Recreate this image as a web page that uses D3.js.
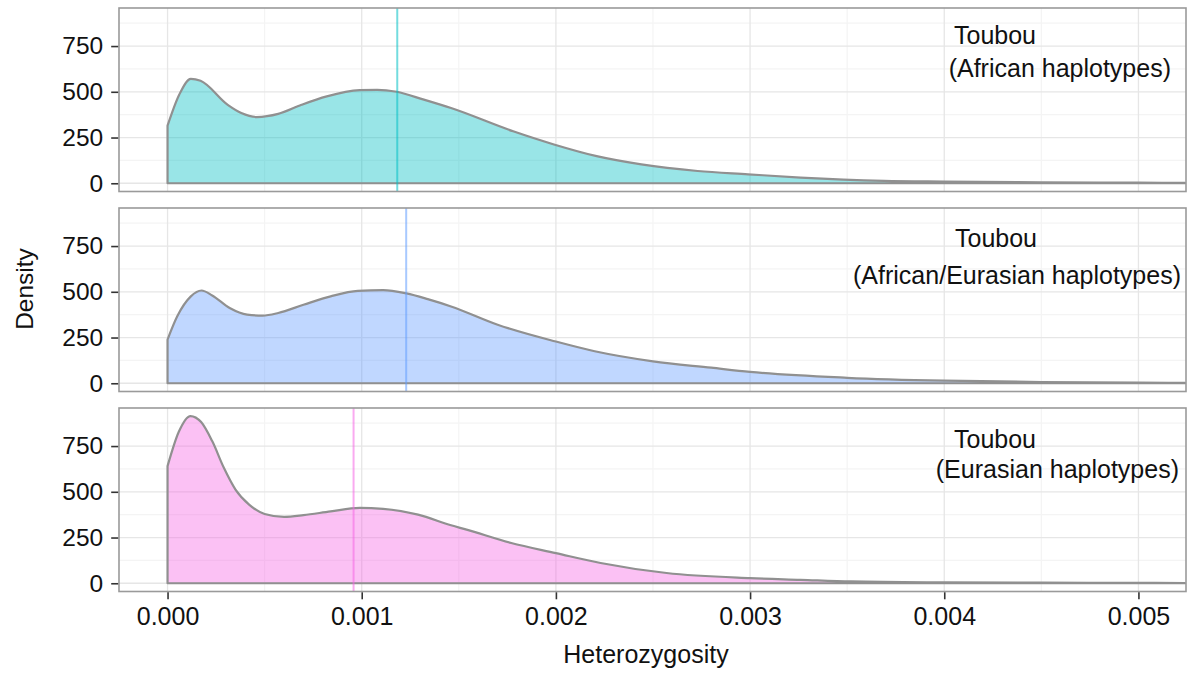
<!DOCTYPE html>
<html><head><meta charset="utf-8">
<script src="https://cdn.jsdelivr.net/npm/d3@7"></script>
<style>
body{margin:0;background:#fff}
text{font-family:"Liberation Sans",Arial,Helvetica,sans-serif}
</style></head>
<body>
<svg id="chart" width="1191" height="673"></svg>
<script>
// ---- data ----
const groupNames = ["Toubou", "Toubou", "Toubou"];
const groupSubtitles = ["(African haplotypes)", "(African/Eurasian haplotypes)", "(Eurasian haplotypes)"];
const groupColors = ["#00BFC4", "#619CFF", "#F564E3"];
const groupMeans = [0.001183, 0.001229, 0.000958];

const africanX = [0, 0.00006, 0.00012, 0.00017, 0.00031, 0.00038, 0.00046, 0.00057, 0.00069, 0.00082, 0.00099, 0.00108, 0.00118, 0.00132, 0.00146, 0.00178, 0.00199, 0.00221, 0.00244, 0.00273, 0.00299, 0.00326, 0.00369, 0.0040, 0.0045, 0.0050, 0.00524];
const africanDensity = [315, 484, 571, 560, 429, 384, 362, 379, 429, 475, 509, 511, 500, 457, 411, 284, 212, 148, 103, 67, 49, 31, 13, 9, 5, 3, 2];

const mixedX = [0, 0.00005, 0.00012, 0.000175, 0.00023, 0.00032, 0.00041, 0.00049, 0.00057, 0.0007, 0.00084, 0.00098, 0.00111, 0.00123, 0.00134, 0.00146, 0.0017, 0.002, 0.0022, 0.0025, 0.0028, 0.003, 0.0035, 0.004, 0.0045, 0.005, 0.00524];
const mixedDensity = [239, 366, 475, 507, 480, 411, 375, 370, 384, 429, 475, 505, 509, 491, 460, 420, 320, 228, 175, 120, 85, 62, 30, 14, 7, 3, 2];

const eurasianX = [0, 0.000058, 0.000118, 0.000173, 0.00023, 0.00029, 0.00035, 0.00042, 0.0005, 0.0006, 0.0007, 0.00084, 0.00099, 0.00111, 0.00129, 0.00146, 0.00154, 0.00177, 0.002, 0.00223, 0.00257, 0.003, 0.00326, 0.00352, 0.004, 0.0045, 0.005, 0.00524];
const eurasianDensity = [640, 828, 914, 881, 777, 631, 512, 430, 379, 363, 372, 393, 412, 407, 375, 317, 293, 220, 165, 111, 56, 28, 19, 10, 5, 3, 2, 1];

const xTicks = [0, 0.001, 0.002, 0.003, 0.004, 0.005];
const xMinor = [0.0005, 0.0015, 0.0025, 0.0035, 0.0045];
const yTicks = [0, 250, 500, 750];
const yMinor = [125, 375, 625, 875];
const xTitle = "Heterozygosity";
const yTitle = "Density";

// ---- layout ----
const groupsX = [africanX, mixedX, eurasianX];
const groupsY = [africanDensity, mixedDensity, eurasianDensity];
const left = 119, right = 1186;
const panelTops = [8, 208, 408];
const panelH = 183.5;
const labelLayout = [
  {x1: 954, y1: 44, x2: 1171, y2: 77},
  {x1: 955, y1: 247, x2: 1181, y2: 284},
  {x1: 954, y1: 448, x2: 1179, y2: 478}
];

const svg = d3.select("#chart");
const x = d3.scaleLinear().domain([-0.00025, 0.005245]).range([left, right]);

groupsX.forEach((gx, i) => {
  const top = panelTops[i];
  const y = d3.scaleLinear().domain([-45, 958]).range([top + panelH, top]);
  const g = svg.append("g");
  g.append("rect").attr("x", left).attr("y", top).attr("width", right - left).attr("height", panelH).attr("fill", "#fff");
  // minor grid
  g.selectAll(".ym").data(yMinor).join("line")
    .attr("x1", left).attr("x2", right).attr("y1", d => y(d)).attr("y2", d => y(d))
    .attr("stroke", "#f4f4f4").attr("stroke-width", 1.2);
  g.selectAll(".xm").data(xMinor).join("line")
    .attr("y1", top).attr("y2", top + panelH).attr("x1", d => x(d)).attr("x2", d => x(d))
    .attr("stroke", "#f4f4f4").attr("stroke-width", 1.2);
  // major grid
  g.selectAll(".yM").data(yTicks).join("line")
    .attr("x1", left).attr("x2", right).attr("y1", d => y(d)).attr("y2", d => y(d))
    .attr("stroke", "#e6e6e6").attr("stroke-width", 1.3);
  g.selectAll(".xM").data(xTicks).join("line")
    .attr("y1", top).attr("y2", top + panelH).attr("x1", d => x(d)).attr("x2", d => x(d))
    .attr("stroke", "#e6e6e6").attr("stroke-width", 1.3);

  // density polygon
  const pts = gx.map((v, k) => [v, groupsY[i][k]]);
  const area = d3.area().x(d => x(d[0])).y0(y(0)).y1(d => y(d[1])).curve(d3.curveMonotoneX);
  const clipId = "clip" + i;
  svg.append("clipPath").attr("id", clipId).append("rect")
    .attr("x", left).attr("y", top).attr("width", right - left).attr("height", panelH);
  const cg = g.append("g").attr("clip-path", `url(#${clipId})`);
  cg.append("path").datum(pts).attr("d", area)
    .attr("fill", groupColors[i]).attr("fill-opacity", 0.4)
    .attr("stroke", "#909090").attr("stroke-width", 2.2).attr("stroke-linejoin", "round");
  // mean line
  cg.append("line").attr("x1", x(groupMeans[i])).attr("x2", x(groupMeans[i]))
    .attr("y1", top).attr("y2", top + panelH)
    .attr("stroke", groupColors[i]).attr("stroke-opacity", 0.55).attr("stroke-width", 2);

  // border
  g.append("rect").attr("x", left).attr("y", top).attr("width", right - left).attr("height", panelH)
    .attr("fill", "none").attr("stroke", "#9a9a9a").attr("stroke-width", 1.6);

  // y axis
  const ya = g.append("g").attr("transform", `translate(${left - 0.8},0)`)
    .call(d3.axisLeft(y).tickValues(yTicks).tickSize(7).tickPadding(8));
  ya.select(".domain").remove();
  ya.selectAll("line").attr("stroke", "#333").attr("stroke-width", 1.6);
  ya.selectAll("text").attr("font-size", 24.5).attr("fill", "#111")
    .attr("font-family", "Liberation Sans, Arial, sans-serif");

  // labels
  const L = labelLayout[i];
  g.append("text").attr("x", L.x1).attr("y", L.y1).attr("font-size", 25).attr("fill", "#111").text(groupNames[i]);
  g.append("text").attr("x", L.x2).attr("y", L.y2).attr("text-anchor", "end").attr("font-size", 25).attr("fill", "#111").text(groupSubtitles[i]);

  if (i === groupsX.length - 1) {
    const xa = g.append("g").attr("transform", `translate(0,${top + panelH + 0.8})`)
      .call(d3.axisBottom(x).tickValues(xTicks).tickSize(7).tickPadding(8).tickFormat(d3.format(".3f")));
    xa.select(".domain").remove();
    xa.selectAll("line").attr("stroke", "#333").attr("stroke-width", 1.6);
    xa.selectAll("text").attr("font-size", 25).attr("fill", "#111")
      .attr("font-family", "Liberation Sans, Arial, sans-serif");
  }
});

svg.append("text").attr("x", 646).attr("y", 663).attr("text-anchor", "middle")
  .attr("font-size", 25).attr("fill", "#111").text(xTitle);
svg.append("text").attr("transform", "translate(33,289) rotate(-90)").attr("text-anchor", "middle")
  .attr("font-size", 24.5).attr("fill", "#111").text(yTitle);
</script>
</body></html>
